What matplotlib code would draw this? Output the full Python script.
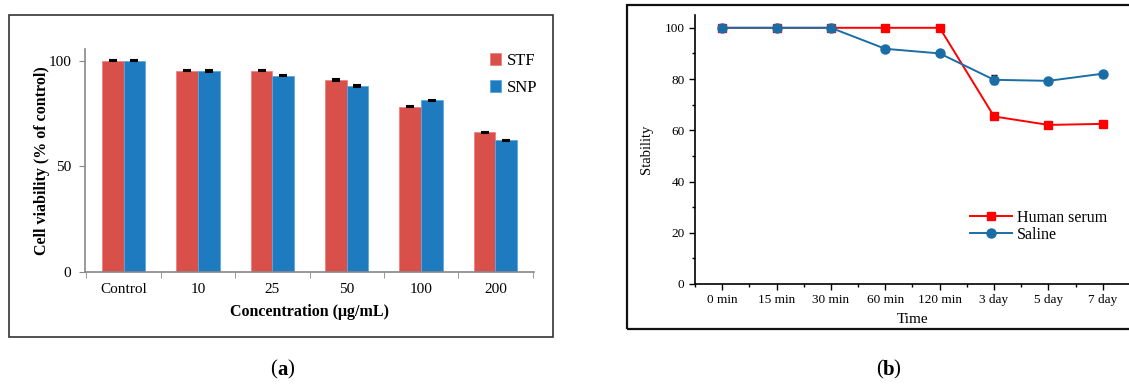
import numpy as np
import matplotlib
matplotlib.use("Agg")
import matplotlib.pyplot as plt
from matplotlib.patches import Rectangle
from matplotlib.ticker import FixedLocator, MultipleLocator

plt.rcParams['font.family'] = ['Liberation Serif', 'DejaVu Serif']

# Panel (a): cell viability
conc_labels = ['Control', '10', '25', '50', '100', '200']
stf = [100.0, 95.3, 95.3, 90.8, 78.2, 66.0]
snp = [100.0, 95.1, 92.9, 88.0, 81.3, 62.3]
stf_err = [0.3, 0.3, 0.3, 0.3, 0.3, 0.3]
snp_err = [0.3, 0.3, 0.3, 0.3, 0.3, 0.3]

# Panel (b): stability over time
time_labels = ['0 min', '15 min', '30 min', '60 min', '120 min', '3 day', '5 day', '7 day']
serum = [100, 100, 100, 100, 100, 65.4, 62.1, 62.5]
saline = [100, 100, 100, 91.8, 90.0, 79.7, 79.3, 82.1]
serum_err = [0.3, 0.3, 0.3, 0.3, 0.3, 0.8, 1.0, 0.8]
saline_err = [0.3, 0.3, 0.3, 0.8, 0.8, 1.8, 0.8, 0.8]

W, H = 1129, 385
fig = plt.figure(figsize=(W / 100, H / 100), dpi=100)


def fbox(x0, y0, x1, y1):
    return [x0 / W, 1 - y1 / H, (x1 - x0) / W, (y1 - y0) / H]


# frames around each panel
r = fbox(9, 15, 553, 337)
fig.add_artist(Rectangle((r[0], r[1]), r[2], r[3], transform=fig.transFigure,
                         fill=False, ec='#333333', lw=1.2))
r = fbox(627, 5, 1150, 329)
fig.add_artist(Rectangle((r[0], r[1]), r[2], r[3], transform=fig.transFigure,
                         fill=False, ec='#111111', lw=1.6))

# ---- (a)
ax1 = fig.add_axes(fbox(85, 49, 534, 272))
x = np.arange(len(conc_labels))
w = 0.29
red, blue = '#D9504A', '#1F7BBF'
ax1.bar(x - w / 2, stf, w, color=red, ec='#F08080', lw=0.6, label='STF')
ax1.bar(x + w / 2, snp, w, color=blue, ec='#5AA8E0', lw=0.6, label='SNP')
ax1.errorbar(x - w / 2, stf, yerr=stf_err, fmt='none', ecolor='black', capsize=3, capthick=1.5, lw=1)
ax1.errorbar(x + w / 2, snp, yerr=snp_err, fmt='none', ecolor='black', capsize=3, capthick=1.5, lw=1)
ax1.set_xlim(-0.52, 5.52)
ax1.set_ylim(0, 105.5)
ax1.set_yticks([0, 50, 100])
ax1.set_xticks(x)
ax1.set_xticklabels(conc_labels, fontsize=11)
ax1.xaxis.set_minor_locator(FixedLocator(np.arange(-0.5, 6, 1)))
ax1.tick_params(axis='x', which='major', length=0, pad=8)
ax1.tick_params(axis='x', which='minor', length=4, direction='out', color='#888888')
ax1.tick_params(axis='y', length=4, direction='out', color='#888888', labelsize=11, pad=6)
for s in ['top', 'right']:
    ax1.spines[s].set_visible(False)
for s in ['left', 'bottom']:
    ax1.spines[s].set_color('#888888')
    ax1.spines[s].set_linewidth(1.2)
ax1.set_xlabel('Concentration (μg/mL)', fontsize=11.5, fontweight='bold', labelpad=6)
ax1.set_ylabel('Cell viability (% of control)', fontsize=11.5, fontweight='bold', labelpad=-1)
ax1.legend(loc='upper right', bbox_to_anchor=(1.04, 1.05), frameon=False, fontsize=12,
           handlelength=0.7, handleheight=0.7, handletextpad=0.3, labelspacing=0.65)

# ---- (b)
ax2 = fig.add_axes(fbox(695, 15, 1130, 284))
t = np.arange(len(time_labels))
eb1 = ax2.errorbar(t, serum, yerr=serum_err, color='#FF0000', marker='s', ms=6, lw=1.4,
                   ecolor='black', elinewidth=0.8, capsize=2.5, zorder=3)
eb2 = ax2.errorbar(t, saline, yerr=saline_err, color='#1A6EA5', marker='o', ms=6.5, lw=1.4,
                   ecolor='black', elinewidth=0.8, capsize=2.5, zorder=4)
ax2.set_xlim(-0.5, 7.5)
ax2.set_ylim(0, 105)
ax2.set_xticks(t)
ax2.set_xticklabels(time_labels, fontsize=9.5)
ax2.xaxis.set_minor_locator(FixedLocator(np.arange(-0.5, 8, 1)))
ax2.set_yticks(np.arange(0, 101, 20))
ax2.yaxis.set_minor_locator(MultipleLocator(10))
ax2.tick_params(which='major', length=4, direction='out', labelsize=9.5, width=1)
ax2.tick_params(which='minor', length=2.5, direction='out', width=1)
for s in ['top', 'right']:
    ax2.spines[s].set_visible(False)
for s in ['left', 'bottom']:
    ax2.spines[s].set_linewidth(1.2)
ax2.set_xlabel('Time', fontsize=11, labelpad=5)
ax2.set_ylabel('Stability', fontsize=10.5, labelpad=8)
ax2.legend([eb1.lines[0], eb2.lines[0]], ['Human serum', 'Saline'],
           loc='lower left', bbox_to_anchor=(0.6, 0.1), frameon=False, fontsize=11.5,
           handlelength=2.6, handletextpad=0.3, labelspacing=0.05)

fig.text(277 / W, 1 - 370 / H, '(', fontsize=15, ha='right', va='center')
fig.text(277 / W, 1 - 370 / H, 'a', fontsize=15, fontweight='bold', ha='left', va='center')
fig.text(287 / W, 1 - 370 / H, ')', fontsize=15, ha='left', va='center')
fig.text(883 / W, 1 - 370 / H, '(', fontsize=15, ha='right', va='center')
fig.text(883 / W, 1 - 370 / H, 'b', fontsize=15, fontweight='bold', ha='left', va='center')
fig.text(893 / W, 1 - 370 / H, ')', fontsize=15, ha='left', va='center')

fig.savefig('out.png', dpi=100)
